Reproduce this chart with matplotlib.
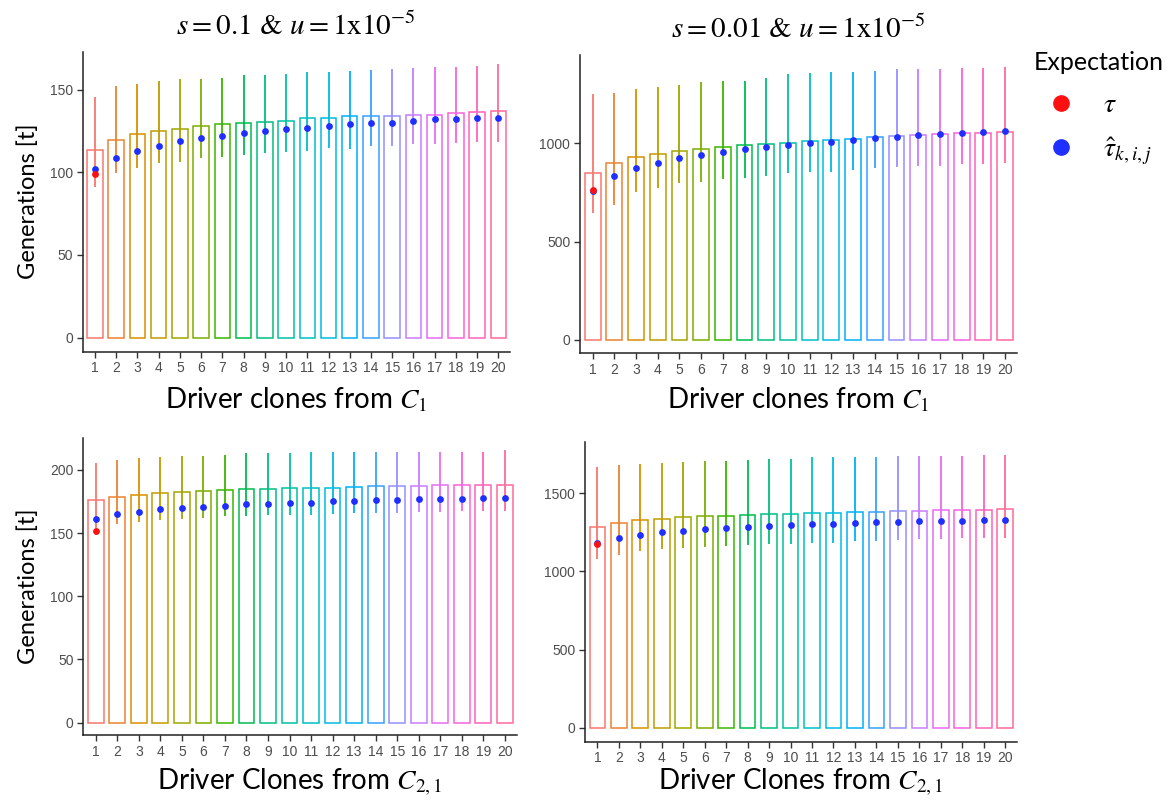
import numpy as np
import matplotlib
matplotlib.use("Agg")
import matplotlib.pyplot as plt
from matplotlib.lines import Line2D

plt.rcParams['mathtext.fontset'] = 'stix'

# === Data ===
clones = list(range(1, 21))

# panel A: s = 0.1, clones from C1
a_bar = [113.5, 119.6, 123, 125.2, 126, 128, 129, 129.6, 130.6, 131,
         132.7, 133, 133.9, 133.9, 134, 135, 135, 136, 136.7, 137]
a_hat = [102, 108.9, 112.9, 115.9, 119, 121, 122, 124, 125, 126,
         127, 128, 129, 130, 130, 131, 132, 132, 133, 133]
a_lo = [91.3, 99.4, 102.4, 105.8, 106.5, 108.5, 109.5, 110.5, 111.5, 112.5,
        113, 114.5, 114.3, 116, 116, 117, 117, 117.5, 118.3, 118.5]
a_hi = [145.4, 152.2, 153.6, 155.4, 156.7, 156.5, 157.3, 158.7, 158.9, 159.3,
        160.5, 160.5, 161.5, 161.9, 162.5, 163, 163.5, 164, 164.5, 165.5]
a_tau = 99

# panel B: s = 0.01, clones from C1
b_bar = [849, 901, 932, 947, 963, 971, 981, 993, 998, 1003,
         1012, 1019, 1022, 1032, 1036, 1041, 1046, 1051, 1054, 1059]
b_hat = [760, 832, 873, 901, 924, 941, 956, 971, 983, 993,
         1002, 1010, 1020, 1027, 1034, 1041, 1046, 1053, 1059, 1063]
b_lo = [645, 684, 755, 772, 798, 806, 820, 823, 835, 849,
        854, 857, 866, 874, 878, 883, 886, 896, 896, 900]
b_hi = [1253, 1256, 1278, 1289, 1297, 1314, 1317, 1321, 1333, 1353,
        1358, 1362, 1363, 1367, 1379, 1379, 1380, 1384, 1384, 1392]
b_tau = 761

# panel C: s = 0.1, clones from C2,1
c_bar = [176, 178.9, 180, 182, 182.6, 183.1, 184.2, 185, 185, 185.5,
         185.8, 185.8, 186.3, 187, 187, 187, 188, 188, 188, 188]
c_hat = [161, 165, 166.8, 168.9, 170, 170.7, 171.8, 172.8, 172.8, 173.9,
         173.9, 175, 175, 176, 176, 176.8, 176.8, 176.8, 177.8, 177.8]
c_lo = [148.5, 157, 159, 160.4, 161.2, 162.3, 163.3, 163.3, 164.1, 164.6,
        164.6, 165.4, 166.2, 166.2, 166.2, 167, 167, 167.5, 167.5, 167.5]
c_hi = [205.3, 207.9, 209.2, 210.3, 211, 211, 211.9, 213, 213, 213.7,
        214.2, 214.2, 214.2, 214.2, 214.2, 214.5, 214.5, 214.5, 214.5, 215.8]
c_tau = 152

# panel D: s = 0.01, clones from C2,1
d_bar = [1282, 1310, 1329, 1338, 1346, 1355, 1357, 1363, 1366, 1370,
         1372, 1374, 1380, 1383, 1387, 1389, 1393, 1393, 1395, 1400]
d_hat = [1184, 1214, 1235, 1250, 1261, 1272, 1278, 1284, 1291, 1297,
         1301, 1306, 1310, 1314, 1316, 1321, 1325, 1325, 1329, 1331]
d_lo = [1077, 1105, 1131, 1144, 1152, 1154, 1165, 1169, 1173, 1178,
        1180, 1184, 1197, 1197, 1201, 1208, 1208, 1212, 1212, 1212]
d_hi = [1671, 1679, 1685, 1696, 1703, 1705, 1709, 1713, 1717, 1720,
        1730, 1730, 1730, 1730, 1741, 1741, 1741, 1741, 1745, 1745]
d_tau = 1173

titles = [r"$s = 0.1$ & $u = 1\mathrm{x}10^{-5}$",
          r"$s = 0.01$ & $u = 1\mathrm{x}10^{-5}$"]
xlab_top = "Driver clones from $C_1$"
xlab_bot = "Driver Clones from $C_{2,1}$"


# === ggplot-like hue palette (hcl, l=65, c=100) ===
def hue_pal(n, l=65, c=100):
    hues = np.linspace(15, 375, n + 1)[:-1]
    Xn, Yn, Zn = 95.047, 100.0, 108.883
    un = 4 * Xn / (Xn + 15 * Yn + 3 * Zn)
    vn = 9 * Yn / (Xn + 15 * Yn + 3 * Zn)
    cols = []
    for h in hues:
        U = c * np.cos(np.radians(h))
        V = c * np.sin(np.radians(h))
        Y = Yn * ((l + 16) / 116) ** 3
        u = U / (13 * l) + un
        v = V / (13 * l) + vn
        X = 9.0 * Y * u / (4 * v)
        Z = -X / 3 - 5 * Y + 3 * Y / v
        M = np.array([[3.240479, -1.537150, -0.498535],
                      [-0.969256, 1.875992, 0.041556],
                      [0.055648, -0.204043, 1.057311]])
        rgb = M @ (np.array([X, Y, Z]) / 100)
        rgb = np.where(rgb > 0.00304, 1.055 * np.abs(rgb) ** (1 / 2.4) - 0.055, 12.92 * rgb)
        cols.append(tuple(np.clip(rgb, 0, 1)))
    return cols


colors = hue_pal(20)

fig = plt.figure(figsize=(11.76, 8.02), dpi=100)
positions = [
    [0.0703, 0.5615, 0.3634, 0.3740],
    [0.4932, 0.5599, 0.3716, 0.3715],
    [0.0708, 0.0835, 0.3686, 0.3700],
    [0.4974, 0.0752, 0.3674, 0.3741],
]
panels = [
    (a_bar, a_hat, a_lo, a_hi, a_tau, (-8.5, 173), [0, 50, 100, 150]),
    (b_bar, b_hat, b_lo, b_hi, b_tau, (-68, 1451), [0, 500, 1000]),
    (c_bar, c_hat, c_lo, c_hi, c_tau, (-9.8, 225), [0, 50, 100, 150, 200]),
    (d_bar, d_hat, d_lo, d_hi, d_tau, (-89.6, 1830), [0, 500, 1000, 1500]),
]
# x-label centre heights (figure fraction)
xlab_y = [0.501, 0.501, 0.024, 0.024]

sans = 'Lato'
for k, (pos, (bar, hat, lo, hi, tau, ylim, yt)) in enumerate(zip(positions, panels)):
    ax = fig.add_axes(pos)
    ax.bar(clones, bar, width=0.73, fill=False, edgecolor=colors, linewidth=1.1, zorder=2)
    ax.vlines(clones, lo, hi, colors=colors, linewidth=1.3, zorder=3)
    ax.scatter(clones, hat, s=24, color='#1f2fff', zorder=4, linewidths=0)
    ax.scatter([1], [tau], s=24, color='#ff1010', zorder=5, linewidths=0)
    ax.set_xlim(0.42, 20.55)
    ax.set_ylim(*ylim)
    ax.set_xticks(clones)
    ax.set_yticks(yt)
    for s in ['top', 'right']:
        ax.spines[s].set_visible(False)
    for s in ['left', 'bottom']:
        ax.spines[s].set_linewidth(1.1)
        ax.spines[s].set_color('#222222')
    ax.tick_params(length=4, width=1, color='#333333', labelcolor='#4d4d4d',
                   labelsize=10, pad=3)
    for lab in ax.get_xticklabels() + ax.get_yticklabels():
        lab.set_family('Liberation Sans')
    xc = pos[0] + pos[2] / 2
    if k < 2:
        ax.set_title(titles[k], fontsize=21, pad=12, family='STIXGeneral')
        fig.text(xc, xlab_y[k], xlab_top, fontsize=20, family=sans, ha='center', va='center')
    else:
        fig.text(xc, xlab_y[k], xlab_bot, fontsize=20, family=sans, ha='center', va='center')
    if k % 2 == 0:
        ax.set_ylabel("Generations [t]", fontsize=17, family=sans, labelpad=8)

handles = [Line2D([], [], marker='o', linestyle='', color='#ff1010', markersize=11),
           Line2D([], [], marker='o', linestyle='', color='#1f2fff', markersize=11)]
leg = fig.legend(handles, [r'$\tau$', r'$\hat{\tau}_{k,i,j}$'], title='Expectation',
                 loc='upper left', bbox_to_anchor=(0.8575, 0.968), frameon=False,
                 fontsize=20, labelspacing=0.6, handletextpad=0.5, alignment='left')
leg.get_title().set_fontsize(18)
leg.get_title().set_family(sans)

fig.savefig('out.png', dpi=100)
